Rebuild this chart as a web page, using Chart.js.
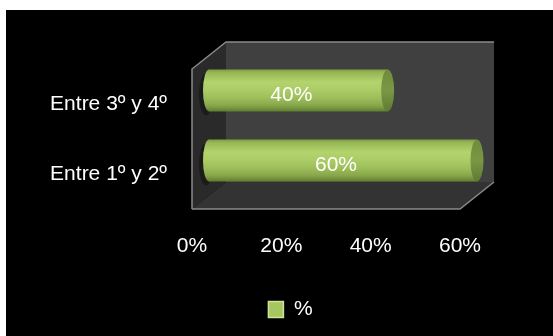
<!DOCTYPE html>
<html>
<head>
<meta charset="utf-8">
<script src="https://cdn.jsdelivr.net/npm/chart.js@4"></script>
<style>
html,body{margin:0;padding:0;background:#fff;}
#wrap{width:553px;height:336px;position:relative;}
</style>
</head>
<body>
<div id="wrap"><canvas id="c" width="553" height="336"></canvas></div>
<script>
const categories = ['Entre 3º y 4º', 'Entre 1º y 2º'];
const seriesName = '%';
const values = [40, 60];
const xTicks = [0, 20, 40, 60];

const FONT = "'Liberation Sans', Arial, sans-serif";
const DX = 34, DY = -27; // 3D depth offset
const BAR_FRAC = 0.6;

function barGradient(ctx, yTop, yBot) {
  const g = ctx.createLinearGradient(0, yTop, 0, yBot);
  g.addColorStop(0, '#7f9e45');
  g.addColorStop(0.08, '#98b856');
  g.addColorStop(0.3, '#b3d36d');
  g.addColorStop(0.5, '#abcb66');
  g.addColorStop(0.7, '#9cbc59');
  g.addColorStop(0.86, '#86a64a');
  g.addColorStop(1, '#5f7e30');
  return g;
}

const box3d = {
  id: 'box3d',
  beforeDraw(chart) {
    const c = chart.ctx;
    c.save();
    c.fillStyle = '#ffffff';
    c.fillRect(0, 0, chart.width, chart.height);
    c.fillStyle = '#000000';
    c.fillRect(6, 10, chart.width - 6, chart.height - 10);
    const a = chart.chartArea;
    const L = a.left, R = a.right, T = a.top, B = a.bottom;
    c.fillStyle = '#404040';
    c.fillRect(L + DX, T + DY, R - L, B - T);
    c.fillStyle = '#333333';
    c.beginPath();
    c.moveTo(L, B); c.lineTo(R, B); c.lineTo(R + DX, B + DY); c.lineTo(L + DX, B + DY); c.closePath();
    c.fill();
    c.fillStyle = '#2a2a2a';
    c.beginPath();
    c.moveTo(L, T); c.lineTo(L + DX, T + DY); c.lineTo(L + DX, B + DY); c.lineTo(L, B); c.closePath();
    c.fill();
    c.strokeStyle = '#8a8a8a';
    c.lineWidth = 1.5;
    c.beginPath();
    c.moveTo(L, B); c.lineTo(L, T); c.lineTo(L + DX, T + DY); c.lineTo(R + DX, T + DY);
    c.moveTo(L, B); c.lineTo(R, B); c.lineTo(R + DX, B + DY);
    c.stroke();
    c.restore();
  },
  beforeDatasetsDraw(chart) {
    const c = chart.ctx;
    c.save();
    c.translate(DX / 2, DY / 2);
    const meta = chart.getDatasetMeta(0);
    meta.data.forEach((el) => {
      const p = el.getProps(['x', 'y', 'base', 'height'], true);
      const h = p.height;
      c.fillStyle = 'rgba(0,0,0,0.35)';
      c.beginPath();
      c.ellipse(p.base - 3, p.y + 4, 7, h / 2, 0, 0, Math.PI * 2);
      c.fill();
      c.fillStyle = barGradient(c, p.y - h / 2, p.y + h / 2);
      c.beginPath();
      c.ellipse(p.base, p.y, 6, h / 2, 0, 0, Math.PI * 2);
      c.fill();
    });
  },
  afterDatasetsDraw(chart) {
    const c = chart.ctx;
    const meta = chart.getDatasetMeta(0);
    meta.data.forEach((el, i) => {
      const p = el.getProps(['x', 'y', 'base', 'height'], true);
      const h = p.height;
      const cg = c.createLinearGradient(0, p.y - h / 2, 0, p.y + h / 2);
      cg.addColorStop(0, '#6f8c3c');
      cg.addColorStop(0.5, '#7a9746');
      cg.addColorStop(1, '#5e7a31');
      c.fillStyle = cg;
      c.beginPath();
      c.ellipse(p.x, p.y, 6.5, h / 2, 0, 0, Math.PI * 2);
      c.fill();
      c.fillStyle = '#ffffff';
      c.font = '21px ' + FONT;
      c.textAlign = 'center';
      c.textBaseline = 'middle';
      c.fillText(values[i] + '%', (p.base + p.x) / 2 - 7, p.y + 5);
    });
    c.restore();
  }
};

new Chart(document.getElementById('c'), {
  type: 'bar',
  data: {
    labels: categories,
    datasets: [{
      label: seriesName,
      data: values,
      clip: false,
      borderWidth: 0,
      barPercentage: BAR_FRAC,
      categoryPercentage: 1,
      backgroundColor: (ctx) => {
        const chart = ctx.chart;
        if (!chart.chartArea) return '#9bbb59';
        const ys = chart.scales.y;
        const yc = ys.getPixelForValue(ctx.dataIndex);
        const half = (ys.height / categories.length) * BAR_FRAC / 2;
        return barGradient(chart.ctx, yc - half, yc + half);
      }
    }]
  },
  options: {
    indexAxis: 'y',
    responsive: false,
    animation: false,
    devicePixelRatio: 1,
    layout: { padding: { left: 28, right: 0, top: 69, bottom: 6 } },
    plugins: {
      tooltip: { enabled: false },
      legend: {
        position: 'bottom',
        labels: {
          color: '#ffffff',
          font: { family: FONT, size: 21 },
          boxWidth: 15,
          boxHeight: 16,
          padding: 10,
          generateLabels: () => [{
            text: seriesName,
            fillStyle: '#a6c660',
            strokeStyle: '#cfe39a',
            fontColor: '#ffffff',
            lineWidth: 1.5,
            hidden: false,
            datasetIndex: 0
          }]
        }
      }
    },
    scales: {
      x: {
        min: 0, max: 60,
        afterBuildTicks: (s) => { s.ticks = xTicks.map(v => ({ value: v })); },
        afterFit: (s) => { s.height = 80; },
        grid: { display: false, drawTicks: false },
        border: { display: false },
        ticks: {
          color: '#ffffff',
          padding: 25,
          font: { family: FONT, size: 21 },
          callback: (v) => v + '%'
        }
      },
      y: {
        afterFit: (s) => { s.width = 164; },
        grid: { display: false, drawTicks: false },
        border: { display: false },
        ticks: {
          color: '#ffffff',
          padding: 25,
          font: { family: FONT, size: 21 }
        }
      },
      yr: {
        position: 'right',
        afterFit: (s) => { s.width = 93; },
        grid: { display: false, drawTicks: false },
        border: { display: false },
        ticks: { display: false }
      }
    }
  },
  plugins: [box3d]
});
</script>
</body>
</html>
